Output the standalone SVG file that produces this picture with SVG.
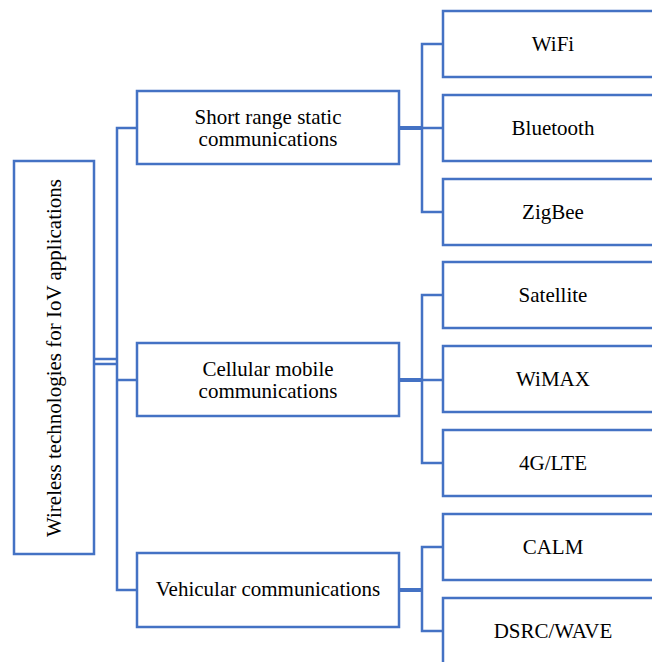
<svg xmlns="http://www.w3.org/2000/svg" width="652" height="662" viewBox="0 0 652 662" font-family="'Liberation Serif', 'Times New Roman', 'DejaVu Serif', serif">
<style>
.box{fill:#fff;stroke:#4472C4;stroke-width:2.5}
.ln{fill:none;stroke:#4472C4;stroke-width:2.5}
.thick{fill:none;stroke:#4472C4;stroke-width:4}
text{font-family:'Liberation Serif','Times New Roman','DejaVu Serif',serif;font-size:21px;fill:#000;text-anchor:middle}
</style>
<rect width="652" height="662" fill="#fff"/>
<g id="connectors">
<line class="ln" x1="94" y1="359" x2="117" y2="359"/>
<line class="ln" x1="94" y1="364" x2="117" y2="364"/>
<polyline class="ln" points="137,128 117,128 117,590 137,590"/>
<line class="ln" x1="117" y1="380" x2="137" y2="380"/>
<line class="thick" x1="399" y1="128" x2="422" y2="128"/>
<line class="ln" x1="422" y1="128" x2="443" y2="128"/>
<polyline class="ln" points="443,44 422,44 422,212 443,212"/>
<line class="thick" x1="399" y1="380" x2="422" y2="380"/>
<line class="ln" x1="422" y1="380" x2="443" y2="380"/>
<polyline class="ln" points="443,295 422,295 422,463 443,463"/>
<line class="thick" x1="399" y1="590" x2="422" y2="590"/>
<polyline class="ln" points="443,547 422,547 422,631 443,631"/>
</g>
<g id="root">
<rect class="box" x="14" y="161" width="80" height="393"/>
<text transform="translate(61,358) rotate(-90)">Wireless technologies for IoV applications</text>
</g>
<g id="short-range">
<rect class="box" x="137" y="91" width="262" height="73"/>
<text x="268" y="124">Short range static</text>
<text x="268" y="146">communications</text>
</g>
<g id="cellular">
<rect class="box" x="137" y="343" width="262" height="73"/>
<text x="268" y="376">Cellular mobile</text>
<text x="268" y="398">communications</text>
</g>
<g id="vehicular">
<rect class="box" x="137" y="553" width="262" height="74"/>
<text x="268" y="596">Vehicular communications</text>
</g>
<g id="wifi">
<rect class="box" x="443" y="11" width="220" height="66"/>
<text x="553" y="51">WiFi</text>
</g>
<g id="bluetooth">
<rect class="box" x="443" y="95" width="220" height="66"/>
<text x="553" y="135">Bluetooth</text>
</g>
<g id="zigbee">
<rect class="box" x="443" y="179" width="220" height="66"/>
<text x="553" y="219">ZigBee</text>
</g>
<g id="satellite">
<rect class="box" x="443" y="262" width="220" height="66"/>
<text x="553" y="302">Satellite</text>
</g>
<g id="wimax">
<rect class="box" x="443" y="346" width="220" height="66"/>
<text x="553" y="386">WiMAX</text>
</g>
<g id="lte">
<rect class="box" x="443" y="430" width="220" height="66"/>
<text x="553" y="470">4G/LTE</text>
</g>
<g id="calm">
<rect class="box" x="443" y="514" width="220" height="66"/>
<text x="553" y="554">CALM</text>
</g>
<g id="dsrc">
<rect class="box" x="443" y="598" width="220" height="66"/>
<text x="553" y="638">DSRC/WAVE</text>
</g>
</svg>
